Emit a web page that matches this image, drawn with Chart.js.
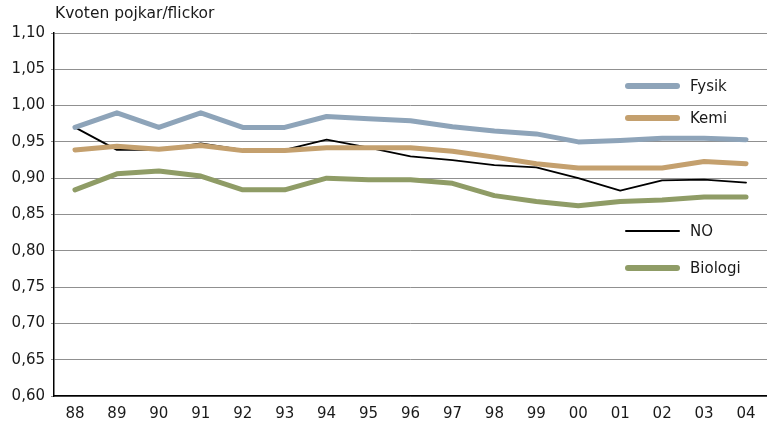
<!DOCTYPE html>
<html>
<head>
<meta charset="utf-8">
<script src="https://cdn.jsdelivr.net/npm/chart.js@4/dist/chart.umd.min.js"></script>
<style>
  html, body { margin: 0; padding: 0; background: #fff; }
  #wrap { position: relative; width: 767px; height: 428px; font-family: "DejaVu Sans", sans-serif; color: #1a1a1a; }
  #title { position: absolute; left: 55px; top: 4px; font-size: 15.5px; }
  .leg { position: absolute; left: 625px; height: 20px; font-size: 15px; display: flex; align-items: center; }
  .leg span.sw { display: inline-block; width: 55px; border-radius: 3px; margin-right: 10px; }
</style>
</head>
<body>
<div id="wrap">
  <canvas id="c" width="767" height="428"></canvas>
  <div id="title">Kvoten pojkar/flickor</div>
</div>
<script>
// Years on the x axis (two-digit labels as in the source).
const years = ["88","89","90","91","92","93","94","95","96","97","98","99","00","01","02","03","04"];

// Boy/girl ratio per subject.
const fysik   = [0.970,0.990,0.970,0.990,0.970,0.970,0.985,0.982,0.979,0.971,0.965,0.961,0.950,0.952,0.955,0.955,0.953];
const kemi    = [0.939,0.944,0.940,0.945,0.938,0.938,0.942,0.942,0.942,0.937,0.929,0.920,0.914,0.914,0.914,0.923,0.920];
const no      = [0.970,0.939,0.939,0.948,0.939,0.939,0.953,0.942,0.930,0.925,0.918,0.915,0.900,0.883,0.897,0.898,0.894];
const biologi = [0.884,0.906,0.910,0.903,0.884,0.884,0.900,0.898,0.898,0.893,0.876,0.868,0.862,0.868,0.870,0.874,0.874];

// Legend rows sit at uneven heights inside the plot, so they're placed by hand.
const legendRows = [
  { label: "Fysik",   color: "#8ea4b9", width: 6, top: 76 },
  { label: "Kemi",    color: "#c4a06e", width: 6, top: 108 },
  { label: "NO",      color: "#000000", width: 2, top: 221 },
  { label: "Biologi", color: "#8f9c66", width: 6, top: 258 },
];

const wrap = document.getElementById("wrap");
for (const r of legendRows) {
  const d = document.createElement("div");
  d.className = "leg";
  d.style.top = r.top + "px";
  d.innerHTML = `<span class="sw" style="height:${r.width}px;background:${r.color}"></span>${r.label}`;
  wrap.appendChild(d);
}

const line = (label, data, color, width) => ({
  label, data, borderColor: color, borderWidth: width,
  pointRadius: 0, tension: 0, fill: false,
  borderCapStyle: "round", borderJoinStyle: "round",
});

const font = { family: "'DejaVu Sans', sans-serif", size: 15 };

new Chart(document.getElementById("c"), {
  type: "line",
  data: {
    labels: years,
    datasets: [
      line("Biologi", biologi, "#8f9c66", 5),
      line("Kemi", kemi, "#c4a06e", 5),
      line("Fysik", fysik, "#8ea4b9", 5),
      line("NO", no, "#000000", 1.8),
    ],
  },
  options: {
    responsive: false,
    animation: false,
    layout: { padding: { top: 33, right: 0, left: 0, bottom: 0 } },
    plugins: { legend: { display: false }, tooltip: { enabled: false } },
    scales: {
      x: {
        offset: true,
        grid: { display: false, drawTicks: false },
        border: { color: "#000", width: 1.5 },
        ticks: { color: "#1a1a1a", font, padding: 9, maxRotation: 0, autoSkip: false },
        afterFit: (s) => { s.height = 32; },
      },
      y: {
        min: 0.6, max: 1.1,
        grid: { color: "#909090", lineWidth: 1, drawTicks: true, tickLength: 3, tickColor: "#909090" },
        border: { color: "#000", width: 1.5 },
        ticks: {
          stepSize: 0.05, color: "#1a1a1a", font, padding: 6,
          callback: (v) => v.toFixed(2).replace(".", ","),
        },
        afterFit: (s) => { s.width = 54; },
      },
    },
  },
});
</script>
</body>
</html>
